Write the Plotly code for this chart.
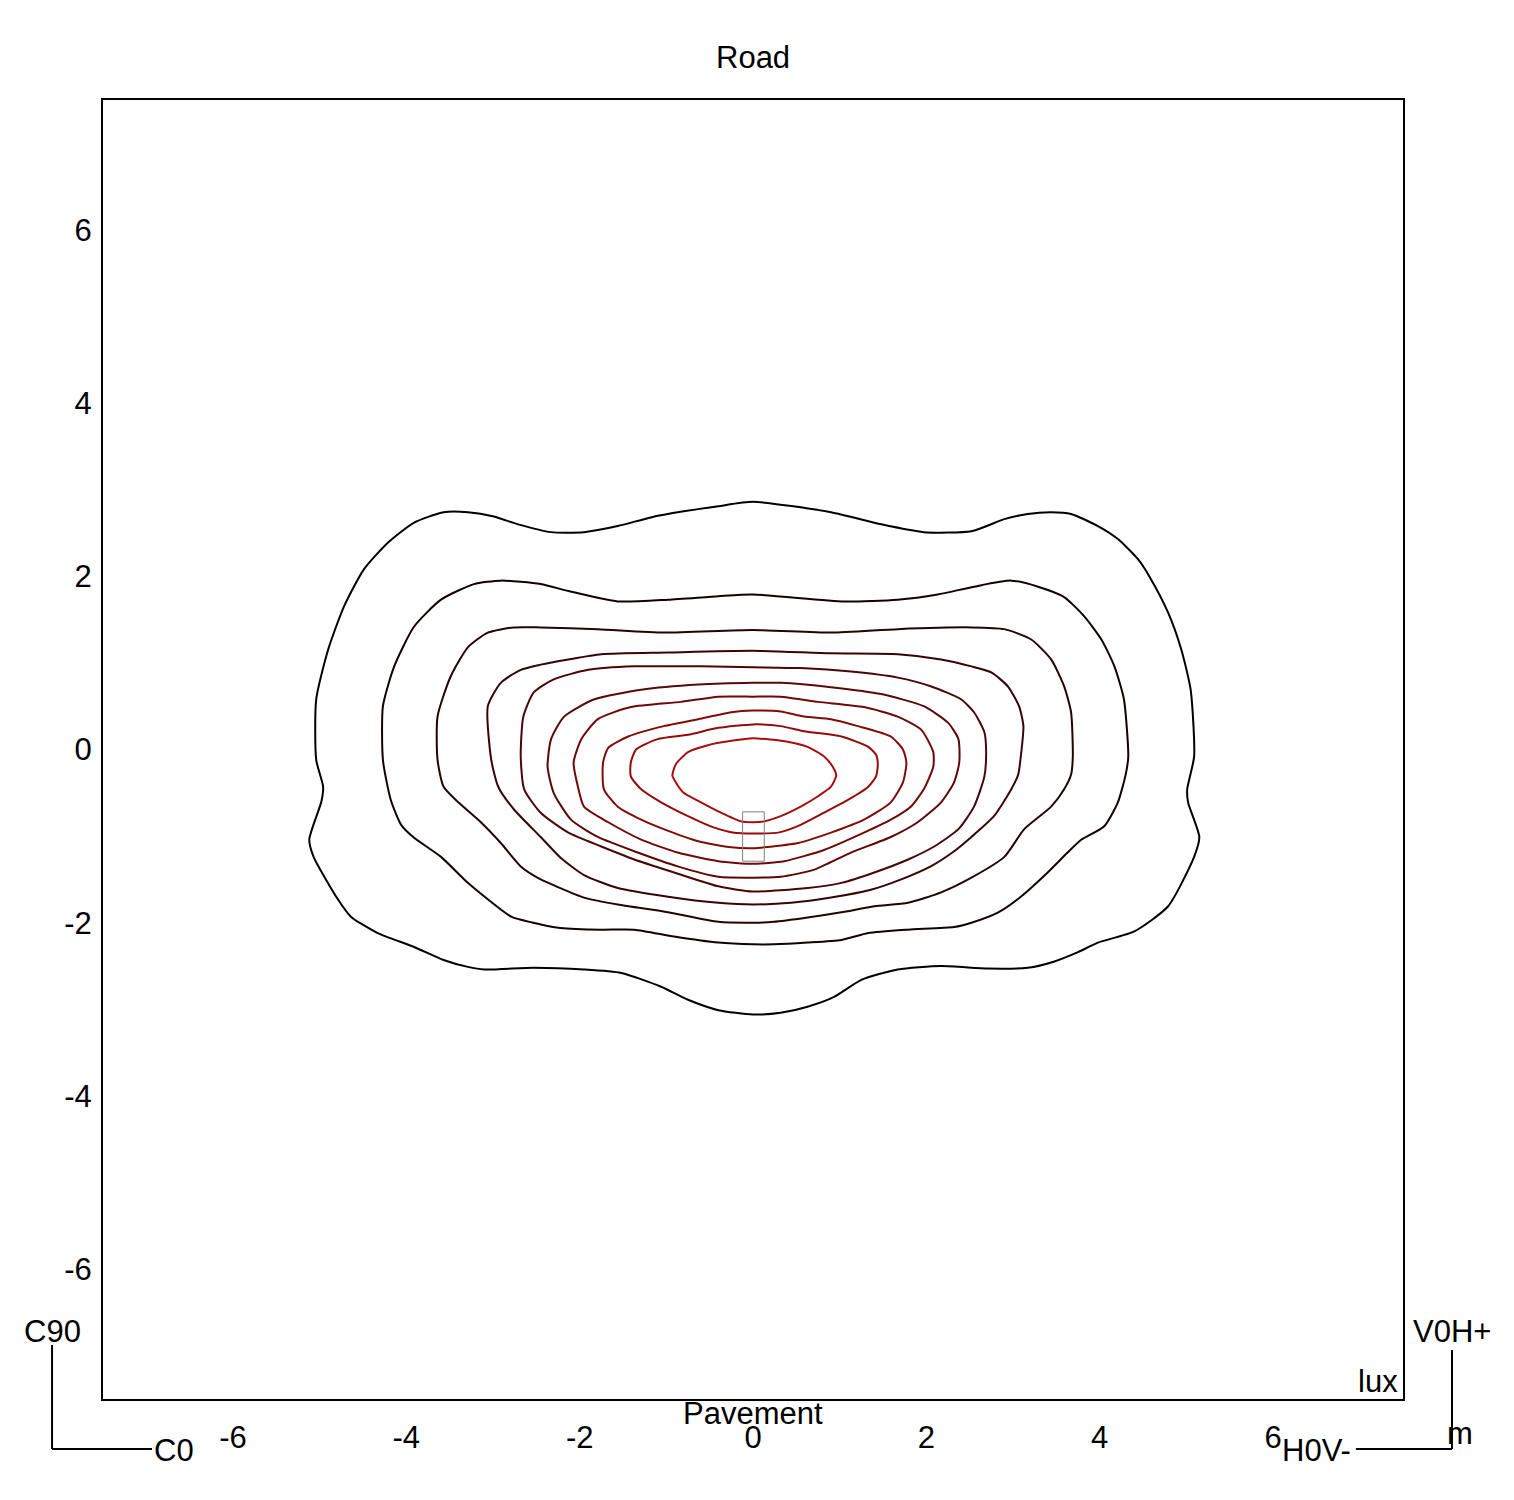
import plotly.graph_objects as go

# Isolux contour lines (metres), outermost (c1) to innermost (c10)
c1_x = [0, 0.90, 1.48, 1.97, 2.52, 2.90, 3.17, 3.44, 3.67, 3.98, 4.21, 4.44, 4.59, 4.79, 4.94, 5.05, 5.09, 5.01, 5.02, 5.15,
        5.09, 4.79, 4.40, 3.98, 3.75, 3.47, 3.17, 2.71, 2.17, 1.67, 1.25, 0.93, 0.63, 0.32, 0, -0.40, -0.75, -1.06, -1.52, -1.95,
        -2.53, -3.10, -3.29, -3.57, -3.91, -4.33, -4.64, -4.79, -5.07, -5.12, -4.98, -4.96, -5.04, -5.04, -4.90, -4.72, -4.49, -4.21, -3.91, -3.57,
        -3.29, -2.99, -2.71, -2.33, -1.95, -1.56, -1.18, -0.80, -0.40, 0]
c1_y = [2.86, 2.74, 2.60, 2.51, 2.52, 2.66, 2.72, 2.74, 2.72, 2.58, 2.43, 2.20, 1.97, 1.58, 1.16, 0.69, -0.08, -0.46, -0.61, -1.01,
        -1.24, -1.81, -2.10, -2.23, -2.34, -2.45, -2.52, -2.53, -2.50, -2.54, -2.66, -2.86, -2.97, -3.04, -3.06, -3.01, -2.89, -2.74, -2.58, -2.54,
        -2.52, -2.54, -2.51, -2.43, -2.28, -2.12, -1.93, -1.73, -1.24, -1.04, -0.60, -0.43, -0.12, 0.58, 1.16, 1.65, 2.08, 2.39, 2.62, 2.74,
        2.74, 2.69, 2.60, 2.51, 2.51, 2.58, 2.68, 2.75, 2.81, 2.86]

c2_x = [0, 1.05, 1.67, 2.13, 2.55, 2.98, 3.29, 3.59, 3.82, 4.02, 4.17, 4.28, 4.33, 4.30, 4.21, 4.05, 3.79, 3.63, 3.40, 3.09,
        2.83, 2.52, 2.32, 1.79, 1.33, 1.02, 0.63, 0.24, 0, -0.40, -0.91, -1.37, -1.75, -2.22, -2.45, -2.79, -3.06, -3.29, -3.60, -3.91,
        -4.06, -4.18, -4.27, -4.27, -4.14, -3.91, -3.60, -3.22, -2.91, -2.45, -2.13, -1.56, -0.98, -0.40, 0]
c2_y = [1.79, 1.71, 1.73, 1.79, 1.88, 1.95, 1.88, 1.76, 1.54, 1.27, 0.96, 0.58, -0.08, -0.29, -0.61, -0.89, -1.04, -1.19, -1.42, -1.70,
        -1.88, -2.00, -2.05, -2.08, -2.12, -2.20, -2.23, -2.25, -2.25, -2.23, -2.16, -2.08, -2.08, -2.06, -2.02, -1.93, -1.73, -1.54, -1.24, -1.02,
        -0.87, -0.58, -0.12, 0.50, 0.96, 1.42, 1.73, 1.91, 1.95, 1.91, 1.83, 1.71, 1.73, 1.77, 1.79]

c3_x = [0, 0.90, 1.67, 2.52, 2.90, 3.21, 3.44, 3.59, 3.67, 3.69, 3.67, 3.59, 3.44, 3.13, 2.90, 2.52, 2.17, 1.79, 1.40, 1.02,
        0.63, 0.24, 0, -0.40, -0.98, -1.56, -1.95, -2.27, -2.45, -2.68, -2.91, -3.14, -3.40, -3.57, -3.64, -3.64, -3.49, -3.29, -3.06, -2.76,
        -2.45, -1.79, -1.03, 0]
c3_y = [1.38, 1.35, 1.39, 1.41, 1.39, 1.27, 1.04, 0.73, 0.43, -0.08, -0.29, -0.46, -0.66, -0.92, -1.24, -1.48, -1.65, -1.77, -1.81, -1.88,
        -1.94, -1.99, -2.00, -1.99, -1.88, -1.79, -1.71, -1.58, -1.50, -1.35, -1.08, -0.84, -0.61, -0.43, -0.12, 0.38, 0.84, 1.18, 1.35, 1.41,
        1.41, 1.39, 1.35, 1.38]

c4_x = [0, 0.90, 1.67, 2.17, 2.52, 2.75, 2.94, 3.07, 3.12, 3.09, 3.06, 2.98, 2.78, 2.52, 2.34, 2.05, 1.71, 1.36, 0.90, 0.44,
        0, -0.40, -0.98, -1.56, -1.95, -2.22, -2.45, -2.76, -2.94, -3.02, -3.06, -2.91, -2.68, -2.45, -2.13, -1.75, -0.98, 0]
c4_y = [1.14, 1.11, 1.10, 1.04, 0.96, 0.89, 0.73, 0.50, 0.27, -0.08, -0.29, -0.46, -0.77, -1.01, -1.16, -1.35, -1.50, -1.62, -1.71, -1.77,
        -1.79, -1.77, -1.70, -1.60, -1.45, -1.25, -1.01, -0.69, -0.43, -0.12, 0.50, 0.77, 0.92, 0.98, 1.04, 1.10, 1.12, 1.14]

c5_x = [0, 0.55, 1.13, 1.67, 2.05, 2.40, 2.55, 2.67, 2.69, 2.67, 2.55, 2.37, 2.09, 1.79, 1.40, 1.02, 0.63, 0, -0.40, -0.91,
        -1.37, -1.75, -2.13, -2.45, -2.64, -2.68, -2.65, -2.53, -2.30, -1.90, -1.37, -0.60, 0]
c5_y = [0.95, 0.94, 0.90, 0.83, 0.73, 0.58, 0.43, 0.20, -0.03, -0.31, -0.66, -0.92, -1.12, -1.27, -1.42, -1.54, -1.60, -1.64, -1.58, -1.42,
        -1.27, -1.12, -0.96, -0.73, -0.46, -0.08, 0.38, 0.66, 0.81, 0.92, 0.96, 0.96, 0.95]

c6_x = [0, 0.32, 0.90, 1.48, 1.97, 2.25, 2.37, 2.38, 2.32, 2.17, 1.90, 1.59, 1.13, 0.70, 0.32, 0, -0.40, -0.87, -1.33, -1.79,
        -2.10, -2.30, -2.37, -2.33, -2.18, -1.83, -1.29, -0.63, 0]
c6_y = [0.77, 0.77, 0.72, 0.64, 0.50, 0.31, 0.12, -0.15, -0.38, -0.61, -0.84, -1.01, -1.19, -1.39, -1.47, -1.48, -1.47, -1.35, -1.19, -1.01,
        -0.81, -0.50, -0.20, 0.12, 0.38, 0.58, 0.69, 0.75, 0.77]

c7_x = [0, 0.32, 0.75, 1.28, 1.67, 1.94, 2.08, 2.08, 1.97, 1.82, 1.59, 1.28, 0.82, 0.36, 0, -0.40, -0.87, -1.29, -1.67, -1.95,
        -2.02, -2.07, -1.98, -1.79, -1.41, -0.83, -0.40, 0]
c7_y = [0.61, 0.61, 0.55, 0.49, 0.38, 0.23, -0.03, -0.20, -0.46, -0.66, -0.81, -0.96, -1.16, -1.29, -1.32, -1.29, -1.19, -1.04, -0.84, -0.66,
        -0.43, -0.15, 0.12, 0.35, 0.49, 0.55, 0.61, 0.61]

c8_x = [0, 0.32, 0.59, 0.90, 1.21, 1.59, 1.73, 1.77, 1.73, 1.59, 1.28, 0.90, 0.52, 0.13, 0, -0.25, -0.63, -1.03, -1.29, -1.56,
        -1.72, -1.73, -1.67, -1.44, -1.03, -0.63, -0.25, 0]
c8_y = [0.45, 0.44, 0.38, 0.35, 0.27, 0.15, 0, -0.15, -0.38, -0.61, -0.81, -0.96, -1.08, -1.13, -1.14, -1.13, -1.06, -0.92, -0.81, -0.66,
        -0.46, -0.15, 0.02, 0.15, 0.27, 0.35, 0.43, 0.45]

c9_x = [0, 0.32, 0.59, 1.02, 1.33, 1.42, 1.44, 1.42, 1.33, 1.10, 0.82, 0.55, 0.29, 0, -0.22, -0.48, -0.75, -1.06, -1.29, -1.41,
        -1.41, -1.35, -1.10, -0.75, -0.40, 0]
c9_y = [0.29, 0.27, 0.21, 0.15, 0.03, -0.06, -0.17, -0.31, -0.43, -0.58, -0.73, -0.87, -0.96, -0.97, -0.96, -0.89, -0.77, -0.61, -0.46, -0.31,
        -0.15, 0, 0.12, 0.17, 0.25, 0.29]

c10_x = [0, 0.40, 0.63, 0.82, 0.92, 0.96, 0.90, 0.75, 0.55, 0.32, 0.13, 0, -0.14, -0.37, -0.60, -0.80, -0.89, -0.93, -0.89, -0.75,
         -0.52, -0.25, 0]
c10_y = [0.13, 0.09, 0.03, -0.08, -0.20, -0.30, -0.43, -0.54, -0.66, -0.77, -0.83, -0.84, -0.83, -0.73, -0.61, -0.50, -0.38, -0.30, -0.17, -0.03,
         0.05, 0.10, 0.13]

contours = [(c1_x, c1_y), (c2_x, c2_y), (c3_x, c3_y), (c4_x, c4_y), (c5_x, c5_y),
            (c6_x, c6_y), (c7_x, c7_y), (c8_x, c8_y), (c9_x, c9_y), (c10_x, c10_y)]

# Luminaire outline (metres)
lum_x = [-0.12, 0.13, 0.13, -0.12, -0.12]
lum_y = [-0.72, -0.72, -1.29, -1.29, -0.72]

tick_vals = [-6, -4, -2, 0, 2, 4, 6]
tick_text = ["-6", "-4", "-2", "0", "2", "4", "6"]

FONT = "Liberation Sans, Arial, sans-serif"
FS = 31

fig = go.Figure()
n = len(contours)
for i, (cx, cy) in enumerate(contours):
    assert len(cx) == len(cy), (i, len(cx), len(cy))
    r = int(round(165 * i / (n - 1)))
    g = int(round(14 * i / (n - 1)))
    fig.add_trace(go.Scatter(x=cx, y=cy, mode="lines",
                             line=dict(color=f"rgb({r},{g},{g})", width=2, shape="spline", smoothing=0.6),
                             hoverinfo="skip", showlegend=False))

fig.add_trace(go.Scatter(x=lum_x, y=lum_y, mode="lines",
                         line=dict(color="#808080", width=1), hoverinfo="skip", showlegend=False))

axis_common = dict(range=[-7.5, 7.5], showgrid=False, zeroline=False, showline=True, mirror=True,
                   linecolor="black", linewidth=2, ticks="", tickvals=tick_vals, ticktext=tick_text,
                   tickfont=dict(family=FONT, size=FS, color="black"))

# page body has an 8px margin, so the figure is sized to fit inside the 1514x1500 window
fig.update_layout(
    width=1498, height=1484,
    margin=dict(l=95, r=103, t=92, b=93),
    paper_bgcolor="white", plot_bgcolor="white",
    font=dict(family=FONT, size=FS, color="black"),
    xaxis=dict(**axis_common, ticklabelstandoff=10),
    yaxis=dict(**axis_common, ticklabelstandoff=3),
    showlegend=False,
)


def ann(text, x, y, xanchor="center", yanchor="middle", size=FS):
    fig.add_annotation(text=text, x=x, y=y, xref="paper", yref="paper", showarrow=False,
                       xanchor=xanchor, yanchor=yanchor, font=dict(family=FONT, size=size, color="black"))


ann("Road", 0.5, 1.0331)
ann("Pavement", 0.5, -0.0108)
ann("lux", 0.9808, 0.0131)
ann("C90", -0.0392, 0.0516)
ann("C0", 0.0546, -0.040)
ann("V0H+", 1.0377, 0.0516)
ann("H0V-", 0.9331, -0.040)
ann("m", 1.0438, -0.0262)

line_style = dict(color="black", width=2)
# left corner bracket
fig.add_shape(type="line", xref="paper", yref="paper", x0=-0.0392, y0=0.0416, x1=-0.0392, y1=-0.0385, line=line_style)
fig.add_shape(type="line", xref="paper", yref="paper", x0=-0.0392, y0=-0.0385, x1=0.0377, y1=-0.0385, line=line_style)
# right corner bracket
fig.add_shape(type="line", xref="paper", yref="paper", x0=1.0377, y0=0.0377, x1=1.0377, y1=-0.0385, line=line_style)
fig.add_shape(type="line", xref="paper", yref="paper", x0=0.9638, y0=-0.0385, x1=1.0377, y1=-0.0385, line=line_style)

fig.write_html("out.html")
